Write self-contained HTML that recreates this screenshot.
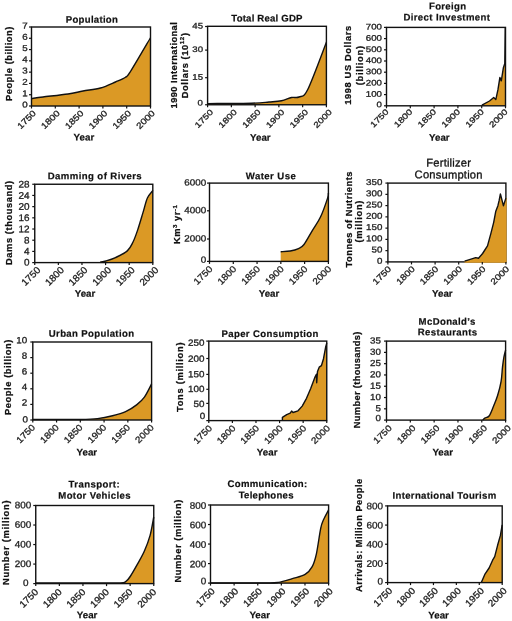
<!DOCTYPE html>
<html><head><meta charset="utf-8"><style>
html,body{margin:0;padding:0;background:#fff;width:512px;height:621px;overflow:hidden}
svg{display:block;will-change:transform;filter:blur(0.3px)}
text{font-family:"Liberation Sans", sans-serif}
.tt{font-weight:bold;font-size:9.6px;fill:#111;stroke:#111;stroke-width:0.2px}
.tr{font-size:11.2px;fill:#111;stroke:#111;stroke-width:0.3px}
.yl{font-weight:bold;font-size:9.3px;fill:#111;stroke:#111;stroke-width:0.25px}
.tk{font-size:10px;fill:#222;stroke:#222;stroke-width:0.3px}
</style></head><body>
<svg width="512" height="621" viewBox="0 0 512 621">
<rect width="512" height="621" fill="#fff"/>
<g><path d="M31.75,106.00 L31.75,98.50 C33.62,98.25 36.96,97.75 43.00,97.00 C49.04,96.25 61.33,95.00 68.00,94.00 C74.67,93.00 77.58,92.00 83.00,91.00 C88.42,90.00 95.08,89.50 100.50,88.00 C105.92,86.50 111.33,83.79 115.50,82.00 C119.67,80.21 123.00,79.00 125.50,77.25 C128.00,75.50 126.33,78.08 130.50,71.50 C134.67,64.92 147.17,43.38 150.50,37.75 L150.50,37.75 L150.50,106.00 Z" fill="#DB9925"/><path d="M31.75,98.50 C33.62,98.25 36.96,97.75 43.00,97.00 C49.04,96.25 61.33,95.00 68.00,94.00 C74.67,93.00 77.58,92.00 83.00,91.00 C88.42,90.00 95.08,89.50 100.50,88.00 C105.92,86.50 111.33,83.79 115.50,82.00 C119.67,80.21 123.00,79.00 125.50,77.25 C128.00,75.50 126.33,78.08 130.50,71.50 C134.67,64.92 147.17,43.38 150.50,37.75" fill="none" stroke="#111" stroke-width="1.4" stroke-linejoin="round"/><rect x="31.5" y="27" width="119.00" height="79.00" fill="none" stroke="#111" stroke-width="1.4"/><line x1="29.00" y1="106.00" x2="31.5" y2="106.00" stroke="#111" stroke-width="1.2"/><text transform="translate(27.80,107.52) scale(1.148,1) rotate(0.05)" class="tk" style="font-size:8.5px" text-anchor="end">0</text><line x1="29.00" y1="94.71" x2="31.5" y2="94.71" stroke="#111" stroke-width="1.2"/><text transform="translate(27.80,96.13) scale(1.148,1) rotate(0.05)" class="tk" style="font-size:8.5px" text-anchor="end">1</text><line x1="29.00" y1="83.43" x2="31.5" y2="83.43" stroke="#111" stroke-width="1.2"/><text transform="translate(27.80,84.85) scale(1.148,1) rotate(0.05)" class="tk" style="font-size:8.5px" text-anchor="end">2</text><line x1="29.00" y1="72.14" x2="31.5" y2="72.14" stroke="#111" stroke-width="1.2"/><text transform="translate(27.80,73.56) scale(1.148,1) rotate(0.05)" class="tk" style="font-size:8.5px" text-anchor="end">3</text><line x1="29.00" y1="60.86" x2="31.5" y2="60.86" stroke="#111" stroke-width="1.2"/><text transform="translate(27.80,62.27) scale(1.148,1) rotate(0.05)" class="tk" style="font-size:8.5px" text-anchor="end">4</text><line x1="29.00" y1="49.57" x2="31.5" y2="49.57" stroke="#111" stroke-width="1.2"/><text transform="translate(27.80,50.99) scale(1.148,1) rotate(0.05)" class="tk" style="font-size:8.5px" text-anchor="end">5</text><line x1="29.00" y1="38.29" x2="31.5" y2="38.29" stroke="#111" stroke-width="1.2"/><text transform="translate(27.80,39.70) scale(1.148,1) rotate(0.05)" class="tk" style="font-size:8.5px" text-anchor="end">6</text><line x1="29.00" y1="27.00" x2="31.5" y2="27.00" stroke="#111" stroke-width="1.2"/><text transform="translate(27.80,28.42) scale(1.148,1) rotate(0.05)" class="tk" style="font-size:8.5px" text-anchor="end">7</text><line x1="31.50" y1="106" x2="31.50" y2="108.50" stroke="#111" stroke-width="1.2"/><text transform="translate(34.40,111.65) rotate(-45) scale(1.176,1)" class="tk" style="font-size:8.50px" text-anchor="end" dy="3">1750</text><line x1="55.30" y1="106" x2="55.30" y2="108.50" stroke="#111" stroke-width="1.2"/><text transform="translate(58.20,111.65) rotate(-45) scale(1.176,1)" class="tk" style="font-size:8.50px" text-anchor="end" dy="3">1800</text><line x1="79.10" y1="106" x2="79.10" y2="108.50" stroke="#111" stroke-width="1.2"/><text transform="translate(82.00,111.65) rotate(-45) scale(1.176,1)" class="tk" style="font-size:8.50px" text-anchor="end" dy="3">1850</text><line x1="102.90" y1="106" x2="102.90" y2="108.50" stroke="#111" stroke-width="1.2"/><text transform="translate(105.80,111.65) rotate(-45) scale(1.176,1)" class="tk" style="font-size:8.50px" text-anchor="end" dy="3">1900</text><line x1="126.70" y1="106" x2="126.70" y2="108.50" stroke="#111" stroke-width="1.2"/><text transform="translate(129.60,111.65) rotate(-45) scale(1.176,1)" class="tk" style="font-size:8.50px" text-anchor="end" dy="3">1950</text><line x1="150.50" y1="106" x2="150.50" y2="108.50" stroke="#111" stroke-width="1.2"/><text transform="translate(153.40,111.65) rotate(-45) scale(1.176,1)" class="tk" style="font-size:8.50px" text-anchor="end" dy="3">2000</text><text x="91.85" y="22.80" transform="rotate(0.05 91.85 22.80)" class="tt" text-anchor="middle" textLength="52.10" lengthAdjust="spacing">Population</text><text transform="translate(11.60,63.85) rotate(-90)" class="yl" text-anchor="middle" textLength="74.30" lengthAdjust="spacing">People (billion)</text><text x="83.90" y="140.60" transform="rotate(0.05 83.90 140.60)" class="tt" text-anchor="middle" textLength="20.6" lengthAdjust="spacingAndGlyphs">Year</text></g><g><path d="M207.75,104.75 L207.75,103.60 C215.04,103.53 241.29,103.47 251.50,103.20 C261.71,102.93 264.00,102.41 269.00,102.00 C274.00,101.59 277.75,101.50 281.50,100.75 C285.25,100.00 288.58,98.12 291.50,97.50 C294.42,96.88 296.29,98.33 299.00,97.00 C301.71,95.67 303.17,98.67 307.75,89.50 C312.33,80.33 323.38,49.92 326.50,42.00 L326.40,42.00 L326.40,104.75 Z" fill="#DB9925"/><path d="M207.75,103.60 C215.04,103.53 241.29,103.47 251.50,103.20 C261.71,102.93 264.00,102.41 269.00,102.00 C274.00,101.59 277.75,101.50 281.50,100.75 C285.25,100.00 288.58,98.12 291.50,97.50 C294.42,96.88 296.29,98.33 299.00,97.00 C301.71,95.67 303.17,98.67 307.75,89.50 C312.33,80.33 323.38,49.92 326.50,42.00" fill="none" stroke="#111" stroke-width="1.4" stroke-linejoin="round"/><rect x="207.6" y="26.3" width="118.80" height="78.45" fill="none" stroke="#111" stroke-width="1.4"/><line x1="205.10" y1="104.75" x2="207.6" y2="104.75" stroke="#111" stroke-width="1.2"/><text transform="translate(203.00,105.49) scale(1.209,1) rotate(0.05)" class="tk" style="font-size:8.0px" text-anchor="end">0</text><line x1="205.10" y1="77.70" x2="207.6" y2="77.70" stroke="#111" stroke-width="1.2"/><text transform="translate(203.00,79.64) scale(1.209,1) rotate(0.05)" class="tk" style="font-size:8.0px" text-anchor="end">15</text><line x1="205.10" y1="50.10" x2="207.6" y2="50.10" stroke="#111" stroke-width="1.2"/><text transform="translate(203.00,52.04) scale(1.209,1) rotate(0.05)" class="tk" style="font-size:8.0px" text-anchor="end">30</text><line x1="205.10" y1="26.50" x2="207.6" y2="26.50" stroke="#111" stroke-width="1.2"/><text transform="translate(203.00,28.44) scale(1.209,1) rotate(0.05)" class="tk" style="font-size:8.0px" text-anchor="end">45</text><line x1="207.60" y1="104.75" x2="207.60" y2="107.25" stroke="#111" stroke-width="1.2"/><text transform="translate(211.60,110.55) rotate(-45) scale(1.250,1)" class="tk" style="font-size:8.00px" text-anchor="end" dy="3">1750</text><line x1="231.36" y1="104.75" x2="231.36" y2="107.25" stroke="#111" stroke-width="1.2"/><text transform="translate(235.36,110.55) rotate(-45) scale(1.250,1)" class="tk" style="font-size:8.00px" text-anchor="end" dy="3">1800</text><line x1="255.12" y1="104.75" x2="255.12" y2="107.25" stroke="#111" stroke-width="1.2"/><text transform="translate(259.12,110.55) rotate(-45) scale(1.250,1)" class="tk" style="font-size:8.00px" text-anchor="end" dy="3">1850</text><line x1="278.88" y1="104.75" x2="278.88" y2="107.25" stroke="#111" stroke-width="1.2"/><text transform="translate(282.88,110.55) rotate(-45) scale(1.250,1)" class="tk" style="font-size:8.00px" text-anchor="end" dy="3">1900</text><line x1="302.64" y1="104.75" x2="302.64" y2="107.25" stroke="#111" stroke-width="1.2"/><text transform="translate(306.64,110.55) rotate(-45) scale(1.250,1)" class="tk" style="font-size:8.00px" text-anchor="end" dy="3">1950</text><line x1="326.40" y1="104.75" x2="326.40" y2="107.25" stroke="#111" stroke-width="1.2"/><text transform="translate(330.40,110.55) rotate(-45) scale(1.250,1)" class="tk" style="font-size:8.00px" text-anchor="end" dy="3">2000</text><text x="266.90" y="21.50" transform="rotate(0.05 266.90 21.50)" class="tt" text-anchor="middle" textLength="71.25" lengthAdjust="spacing">Total Real GDP</text><text transform="translate(176.70,65.30) rotate(-90)" class="yl" text-anchor="middle" textLength="86.20" lengthAdjust="spacing">1990 International</text><text transform="translate(187.60,65.65) rotate(-90)" class="yl" text-anchor="middle" textLength="65.30" lengthAdjust="spacing">Dollars (10<tspan font-size="6.2" dy="-3.6">12</tspan><tspan dy="3.6">)</tspan></text><text x="260.30" y="140.70" transform="rotate(0.05 260.30 140.70)" class="tt" text-anchor="middle" textLength="20.6" lengthAdjust="spacingAndGlyphs">Year</text></g><g><path d="M481.90,105.80 L481.90,105.10 489.50,101.00 L493.70,97.50 L495.80,99.60 L497.90,89.90 L499.90,77.40 L501.30,80.90 L503.40,67.70 L504.80,63.50 L505.30,27.50 L505.50,27.50 L505.50,105.80 Z" fill="#DB9925"/><path d="M481.90,105.10 489.50,101.00 L493.70,97.50 L495.80,99.60 L497.90,89.90 L499.90,77.40 L501.30,80.90 L503.40,67.70 L504.80,63.50 L505.30,27.50" fill="none" stroke="#111" stroke-width="1.4" stroke-linejoin="round"/><rect x="386.5" y="27.4" width="119.00" height="78.40" fill="none" stroke="#111" stroke-width="1.4"/><line x1="384.00" y1="105.80" x2="386.5" y2="105.80" stroke="#111" stroke-width="1.2"/><text transform="translate(382.00,107.28) scale(1.196,1) rotate(0.05)" class="tk" style="font-size:8.1px" text-anchor="end">0</text><line x1="384.00" y1="94.60" x2="386.5" y2="94.60" stroke="#111" stroke-width="1.2"/><text transform="translate(382.00,96.73) scale(1.196,1) rotate(0.05)" class="tk" style="font-size:8.1px" text-anchor="end">100</text><line x1="384.00" y1="83.40" x2="386.5" y2="83.40" stroke="#111" stroke-width="1.2"/><text transform="translate(382.00,85.53) scale(1.196,1) rotate(0.05)" class="tk" style="font-size:8.1px" text-anchor="end">200</text><line x1="384.00" y1="72.20" x2="386.5" y2="72.20" stroke="#111" stroke-width="1.2"/><text transform="translate(382.00,74.33) scale(1.196,1) rotate(0.05)" class="tk" style="font-size:8.1px" text-anchor="end">300</text><line x1="384.00" y1="61.00" x2="386.5" y2="61.00" stroke="#111" stroke-width="1.2"/><text transform="translate(382.00,63.13) scale(1.196,1) rotate(0.05)" class="tk" style="font-size:8.1px" text-anchor="end">400</text><line x1="384.00" y1="49.80" x2="386.5" y2="49.80" stroke="#111" stroke-width="1.2"/><text transform="translate(382.00,51.93) scale(1.196,1) rotate(0.05)" class="tk" style="font-size:8.1px" text-anchor="end">500</text><line x1="384.00" y1="38.60" x2="386.5" y2="38.60" stroke="#111" stroke-width="1.2"/><text transform="translate(382.00,40.73) scale(1.196,1) rotate(0.05)" class="tk" style="font-size:8.1px" text-anchor="end">600</text><line x1="384.00" y1="27.40" x2="386.5" y2="27.40" stroke="#111" stroke-width="1.2"/><text transform="translate(382.00,29.53) scale(1.196,1) rotate(0.05)" class="tk" style="font-size:8.1px" text-anchor="end">700</text><line x1="386.50" y1="105.8" x2="386.50" y2="108.30" stroke="#111" stroke-width="1.2"/><text transform="translate(387.05,110.15) rotate(-45) scale(1.235,1)" class="tk" style="font-size:8.10px" text-anchor="end" dy="3">1750</text><line x1="410.30" y1="105.8" x2="410.30" y2="108.30" stroke="#111" stroke-width="1.2"/><text transform="translate(410.85,110.15) rotate(-45) scale(1.235,1)" class="tk" style="font-size:8.10px" text-anchor="end" dy="3">1800</text><line x1="434.10" y1="105.8" x2="434.10" y2="108.30" stroke="#111" stroke-width="1.2"/><text transform="translate(434.65,110.15) rotate(-45) scale(1.235,1)" class="tk" style="font-size:8.10px" text-anchor="end" dy="3">1850</text><line x1="457.90" y1="105.8" x2="457.90" y2="108.30" stroke="#111" stroke-width="1.2"/><text transform="translate(458.45,110.15) rotate(-45) scale(1.235,1)" class="tk" style="font-size:8.10px" text-anchor="end" dy="3">1900</text><line x1="481.70" y1="105.8" x2="481.70" y2="108.30" stroke="#111" stroke-width="1.2"/><text transform="translate(482.25,110.15) rotate(-45) scale(1.235,1)" class="tk" style="font-size:8.10px" text-anchor="end" dy="3">1950</text><line x1="505.50" y1="105.8" x2="505.50" y2="108.30" stroke="#111" stroke-width="1.2"/><text transform="translate(506.05,110.15) rotate(-45) scale(1.235,1)" class="tk" style="font-size:8.10px" text-anchor="end" dy="3">2000</text><text x="447.50" y="9.40" transform="rotate(0.05 447.50 9.40)" class="tt" text-anchor="middle" textLength="37.00" lengthAdjust="spacing">Foreign</text><text x="446.70" y="20.60" transform="rotate(0.05 446.70 20.60)" class="tt" text-anchor="middle" textLength="86.60" lengthAdjust="spacing">Direct Investment</text><text transform="translate(351.20,65.30) rotate(-90)" class="yl" text-anchor="middle" textLength="79.00" lengthAdjust="spacing">1998 US Dollars</text><text transform="translate(362.90,65.60) rotate(-90)" class="yl" text-anchor="middle" textLength="39.20" lengthAdjust="spacing">(billion)</text><text x="439.30" y="140.70" transform="rotate(0.05 439.30 140.70)" class="tt" text-anchor="middle" textLength="20.6" lengthAdjust="spacingAndGlyphs">Year</text></g><g><path d="M100.30,262.60 L100.30,262.00 C101.22,261.83 103.32,261.73 105.85,261.00 C108.38,260.27 111.92,259.28 115.50,257.60 C119.08,255.92 124.40,253.45 127.30,250.90 C130.20,248.35 131.17,245.80 132.90,242.30 C134.63,238.80 135.98,234.97 137.70,229.90 C139.42,224.83 141.58,217.22 143.20,211.90 C144.82,206.58 145.78,201.58 147.40,198.00 C149.02,194.42 151.98,191.67 152.90,190.40 L152.80,190.40 L152.80,262.60 Z" fill="#DB9925"/><path d="M100.30,262.00 C101.22,261.83 103.32,261.73 105.85,261.00 C108.38,260.27 111.92,259.28 115.50,257.60 C119.08,255.92 124.40,253.45 127.30,250.90 C130.20,248.35 131.17,245.80 132.90,242.30 C134.63,238.80 135.98,234.97 137.70,229.90 C139.42,224.83 141.58,217.22 143.20,211.90 C144.82,206.58 145.78,201.58 147.40,198.00 C149.02,194.42 151.98,191.67 152.90,190.40" fill="none" stroke="#111" stroke-width="1.4" stroke-linejoin="round"/><rect x="34.75" y="184.25" width="118.05" height="78.35" fill="none" stroke="#111" stroke-width="1.4"/><line x1="32.25" y1="262.60" x2="34.75" y2="262.60" stroke="#111" stroke-width="1.2"/><text transform="translate(29.65,265.51) scale(1.035,1) rotate(0.05)" class="tk" style="font-size:9.6px" text-anchor="end">0</text><line x1="32.25" y1="251.41" x2="34.75" y2="251.41" stroke="#111" stroke-width="1.2"/><text transform="translate(29.65,254.62) scale(1.035,1) rotate(0.05)" class="tk" style="font-size:9.6px" text-anchor="end">4</text><line x1="32.25" y1="240.21" x2="34.75" y2="240.21" stroke="#111" stroke-width="1.2"/><text transform="translate(29.65,243.42) scale(1.035,1) rotate(0.05)" class="tk" style="font-size:9.6px" text-anchor="end">8</text><line x1="32.25" y1="229.02" x2="34.75" y2="229.02" stroke="#111" stroke-width="1.2"/><text transform="translate(29.65,232.23) scale(1.035,1) rotate(0.05)" class="tk" style="font-size:9.6px" text-anchor="end">12</text><line x1="32.25" y1="217.83" x2="34.75" y2="217.83" stroke="#111" stroke-width="1.2"/><text transform="translate(29.65,221.04) scale(1.035,1) rotate(0.05)" class="tk" style="font-size:9.6px" text-anchor="end">16</text><line x1="32.25" y1="206.64" x2="34.75" y2="206.64" stroke="#111" stroke-width="1.2"/><text transform="translate(29.65,209.84) scale(1.035,1) rotate(0.05)" class="tk" style="font-size:9.6px" text-anchor="end">20</text><line x1="32.25" y1="195.44" x2="34.75" y2="195.44" stroke="#111" stroke-width="1.2"/><text transform="translate(29.65,198.65) scale(1.035,1) rotate(0.05)" class="tk" style="font-size:9.6px" text-anchor="end">24</text><line x1="32.25" y1="184.25" x2="34.75" y2="184.25" stroke="#111" stroke-width="1.2"/><text transform="translate(29.65,187.46) scale(1.035,1) rotate(0.05)" class="tk" style="font-size:9.6px" text-anchor="end">28</text><line x1="34.75" y1="262.6" x2="34.75" y2="265.10" stroke="#111" stroke-width="1.2"/><text transform="translate(38.95,268.45) rotate(-45) scale(1.042,1)" class="tk" style="font-size:9.60px" text-anchor="end" dy="3">1750</text><line x1="58.36" y1="262.6" x2="58.36" y2="265.10" stroke="#111" stroke-width="1.2"/><text transform="translate(62.56,268.45) rotate(-45) scale(1.042,1)" class="tk" style="font-size:9.60px" text-anchor="end" dy="3">1800</text><line x1="81.97" y1="262.6" x2="81.97" y2="265.10" stroke="#111" stroke-width="1.2"/><text transform="translate(86.17,268.45) rotate(-45) scale(1.042,1)" class="tk" style="font-size:9.60px" text-anchor="end" dy="3">1850</text><line x1="105.58" y1="262.6" x2="105.58" y2="265.10" stroke="#111" stroke-width="1.2"/><text transform="translate(109.78,268.45) rotate(-45) scale(1.042,1)" class="tk" style="font-size:9.60px" text-anchor="end" dy="3">1900</text><line x1="129.19" y1="262.6" x2="129.19" y2="265.10" stroke="#111" stroke-width="1.2"/><text transform="translate(133.39,268.45) rotate(-45) scale(1.042,1)" class="tk" style="font-size:9.60px" text-anchor="end" dy="3">1950</text><line x1="152.80" y1="262.6" x2="152.80" y2="265.10" stroke="#111" stroke-width="1.2"/><text transform="translate(157.00,268.45) rotate(-45) scale(1.042,1)" class="tk" style="font-size:9.60px" text-anchor="end" dy="3">2000</text><text x="94.70" y="179.30" transform="rotate(0.05 94.70 179.30)" class="tt" text-anchor="middle" textLength="94.00" lengthAdjust="spacing">Damming of Rivers</text><text transform="translate(12.00,222.95) rotate(-90)" class="yl" text-anchor="middle" textLength="84.10" lengthAdjust="spacing">Dams (thousand)</text><text x="85.00" y="296.70" transform="rotate(0.05 85.00 296.70)" class="tt" text-anchor="middle" textLength="20.6" lengthAdjust="spacingAndGlyphs">Year</text></g><g><path d="M280.70,261.40 L280.70,251.70 C282.28,251.58 287.23,251.52 290.20,251.00 C293.17,250.48 296.20,249.68 298.50,248.60 C300.80,247.52 301.70,247.50 304.00,244.50 C306.30,241.50 309.53,235.22 312.30,230.60 C315.07,225.98 318.05,222.22 320.60,216.80 C323.15,211.38 326.30,202.07 327.60,198.10 C328.90,194.13 328.27,193.85 328.40,193.00 L328.40,193.00 L328.40,261.40 Z" fill="#DB9925"/><path d="M280.70,251.70 C282.28,251.58 287.23,251.52 290.20,251.00 C293.17,250.48 296.20,249.68 298.50,248.60 C300.80,247.52 301.70,247.50 304.00,244.50 C306.30,241.50 309.53,235.22 312.30,230.60 C315.07,225.98 318.05,222.22 320.60,216.80 C323.15,211.38 326.30,202.07 327.60,198.10 C328.90,194.13 328.27,193.85 328.40,193.00" fill="none" stroke="#111" stroke-width="1.4" stroke-linejoin="round"/><rect x="209.5" y="183.1" width="118.90" height="78.30" fill="none" stroke="#111" stroke-width="1.4"/><line x1="207.00" y1="261.40" x2="209.5" y2="261.40" stroke="#111" stroke-width="1.2"/><text transform="translate(206.15,262.73) scale(1.083,1) rotate(0.05)" class="tk" style="font-size:9.1px" text-anchor="end">0</text><line x1="207.00" y1="239.00" x2="209.5" y2="239.00" stroke="#111" stroke-width="1.2"/><text transform="translate(206.15,241.53) scale(1.083,1) rotate(0.05)" class="tk" style="font-size:9.1px" text-anchor="end">2000</text><line x1="207.00" y1="210.80" x2="209.5" y2="210.80" stroke="#111" stroke-width="1.2"/><text transform="translate(206.15,213.33) scale(1.083,1) rotate(0.05)" class="tk" style="font-size:9.1px" text-anchor="end">4000</text><line x1="207.00" y1="183.10" x2="209.5" y2="183.10" stroke="#111" stroke-width="1.2"/><text transform="translate(206.15,185.63) scale(1.083,1) rotate(0.05)" class="tk" style="font-size:9.1px" text-anchor="end">6000</text><line x1="209.50" y1="261.4" x2="209.50" y2="263.90" stroke="#111" stroke-width="1.2"/><text transform="translate(210.95,267.40) rotate(-45) scale(1.099,1)" class="tk" style="font-size:9.10px" text-anchor="end" dy="3">1750</text><line x1="233.28" y1="261.4" x2="233.28" y2="263.90" stroke="#111" stroke-width="1.2"/><text transform="translate(234.73,267.40) rotate(-45) scale(1.099,1)" class="tk" style="font-size:9.10px" text-anchor="end" dy="3">1800</text><line x1="257.06" y1="261.4" x2="257.06" y2="263.90" stroke="#111" stroke-width="1.2"/><text transform="translate(258.51,267.40) rotate(-45) scale(1.099,1)" class="tk" style="font-size:9.10px" text-anchor="end" dy="3">1850</text><line x1="280.84" y1="261.4" x2="280.84" y2="263.90" stroke="#111" stroke-width="1.2"/><text transform="translate(282.29,267.40) rotate(-45) scale(1.099,1)" class="tk" style="font-size:9.10px" text-anchor="end" dy="3">1900</text><line x1="304.62" y1="261.4" x2="304.62" y2="263.90" stroke="#111" stroke-width="1.2"/><text transform="translate(306.07,267.40) rotate(-45) scale(1.099,1)" class="tk" style="font-size:9.10px" text-anchor="end" dy="3">1950</text><line x1="328.40" y1="261.4" x2="328.40" y2="263.90" stroke="#111" stroke-width="1.2"/><text transform="translate(329.85,267.40) rotate(-45) scale(1.099,1)" class="tk" style="font-size:9.10px" text-anchor="end" dy="3">2000</text><text x="270.75" y="179.30" transform="rotate(0.05 270.75 179.30)" class="tt" text-anchor="middle" textLength="50.00" lengthAdjust="spacing">Water Use</text><text transform="translate(180.20,224.50) rotate(-90)" class="yl" text-anchor="middle" textLength="39.00" lengthAdjust="spacing">Km<tspan font-size="6.2" dy="-3.6">3</tspan><tspan dy="3.6"> yr</tspan><tspan font-size="6.2" dy="-3.6">-1</tspan></text><text x="269.00" y="296.70" transform="rotate(0.05 269.00 296.70)" class="tt" text-anchor="middle" textLength="20.6" lengthAdjust="spacingAndGlyphs">Year</text></g><g><rect x="387.9" y="183.1" width="118.00" height="78.80" fill="none" stroke="#111" stroke-width="1.4"/><path d="M464.60,262.65 L464.60,261.10 470.20,259.40 L475.70,257.60 L478.50,258.30 L482.60,253.50 L487.50,245.90 L490.90,233.40 L493.70,222.30 L495.80,211.20 L497.90,205.70 L499.20,200.20 L500.40,193.90 L502.00,200.20 L503.40,205.70 L505.90,198.10 L506.65,198.10 L506.65,262.65 Z" fill="#DB9925"/><path d="M464.60,261.10 470.20,259.40 L475.70,257.60 L478.50,258.30 L482.60,253.50 L487.50,245.90 L490.90,233.40 L493.70,222.30 L495.80,211.20 L497.90,205.70 L499.20,200.20 L500.40,193.90 L502.00,200.20 L503.40,205.70 L505.90,198.10" fill="none" stroke="#111" stroke-width="1.4" stroke-linejoin="round"/><line x1="385.40" y1="261.90" x2="387.9" y2="261.90" stroke="#111" stroke-width="1.2"/><text transform="translate(382.40,263.72) scale(1.148,1) rotate(0.05)" class="tk" style="font-size:8.5px" text-anchor="end">0</text><line x1="385.40" y1="250.64" x2="387.9" y2="250.64" stroke="#111" stroke-width="1.2"/><text transform="translate(382.40,252.56) scale(1.148,1) rotate(0.05)" class="tk" style="font-size:8.5px" text-anchor="end">50</text><line x1="385.40" y1="239.39" x2="387.9" y2="239.39" stroke="#111" stroke-width="1.2"/><text transform="translate(382.40,241.30) scale(1.148,1) rotate(0.05)" class="tk" style="font-size:8.5px" text-anchor="end">100</text><line x1="385.40" y1="228.13" x2="387.9" y2="228.13" stroke="#111" stroke-width="1.2"/><text transform="translate(382.40,230.05) scale(1.148,1) rotate(0.05)" class="tk" style="font-size:8.5px" text-anchor="end">150</text><line x1="385.40" y1="216.87" x2="387.9" y2="216.87" stroke="#111" stroke-width="1.2"/><text transform="translate(382.40,218.79) scale(1.148,1) rotate(0.05)" class="tk" style="font-size:8.5px" text-anchor="end">200</text><line x1="385.40" y1="205.61" x2="387.9" y2="205.61" stroke="#111" stroke-width="1.2"/><text transform="translate(382.40,207.53) scale(1.148,1) rotate(0.05)" class="tk" style="font-size:8.5px" text-anchor="end">250</text><line x1="385.40" y1="194.36" x2="387.9" y2="194.36" stroke="#111" stroke-width="1.2"/><text transform="translate(382.40,196.27) scale(1.148,1) rotate(0.05)" class="tk" style="font-size:8.5px" text-anchor="end">300</text><line x1="385.40" y1="183.10" x2="387.9" y2="183.10" stroke="#111" stroke-width="1.2"/><text transform="translate(382.40,185.02) scale(1.148,1) rotate(0.05)" class="tk" style="font-size:8.5px" text-anchor="end">350</text><line x1="387.90" y1="261.9" x2="387.90" y2="264.40" stroke="#111" stroke-width="1.2"/><text transform="translate(389.65,267.40) rotate(-45) scale(1.176,1)" class="tk" style="font-size:8.50px" text-anchor="end" dy="3">1750</text><line x1="411.50" y1="261.9" x2="411.50" y2="264.40" stroke="#111" stroke-width="1.2"/><text transform="translate(413.25,267.40) rotate(-45) scale(1.176,1)" class="tk" style="font-size:8.50px" text-anchor="end" dy="3">1800</text><line x1="435.10" y1="261.9" x2="435.10" y2="264.40" stroke="#111" stroke-width="1.2"/><text transform="translate(436.85,267.40) rotate(-45) scale(1.176,1)" class="tk" style="font-size:8.50px" text-anchor="end" dy="3">1850</text><line x1="458.70" y1="261.9" x2="458.70" y2="264.40" stroke="#111" stroke-width="1.2"/><text transform="translate(460.45,267.40) rotate(-45) scale(1.176,1)" class="tk" style="font-size:8.50px" text-anchor="end" dy="3">1900</text><line x1="482.30" y1="261.9" x2="482.30" y2="264.40" stroke="#111" stroke-width="1.2"/><text transform="translate(484.05,267.40) rotate(-45) scale(1.176,1)" class="tk" style="font-size:8.50px" text-anchor="end" dy="3">1950</text><line x1="505.90" y1="261.9" x2="505.90" y2="264.40" stroke="#111" stroke-width="1.2"/><text transform="translate(507.65,267.40) rotate(-45) scale(1.176,1)" class="tk" style="font-size:8.50px" text-anchor="end" dy="3">2000</text><text x="448.60" y="166.60" transform="rotate(0.05 448.60 166.60)" class="tr" text-anchor="middle" textLength="44.65" lengthAdjust="spacing">Fertilizer</text><text x="448.55" y="178.40" transform="rotate(0.05 448.55 178.40)" class="tr" text-anchor="middle" textLength="67.90" lengthAdjust="spacing">Consumption</text><text transform="translate(351.80,219.50) rotate(-90)" class="yl" text-anchor="middle" textLength="95.80" lengthAdjust="spacing">Tonnes of Nutrients</text><text transform="translate(362.20,221.55) rotate(-90)" class="yl" text-anchor="middle" textLength="41.90" lengthAdjust="spacing">(million)</text><text x="442.30" y="296.70" transform="rotate(0.05 442.30 296.70)" class="tt" text-anchor="middle" textLength="20.6" lengthAdjust="spacingAndGlyphs">Year</text></g><g><path d="M32.80,420.00 L32.80,419.50 C37.33,419.50 52.03,419.50 60.00,419.50 C67.97,419.50 74.35,419.65 80.60,419.50 C86.85,419.35 92.18,419.22 97.50,418.60 C102.82,417.98 107.82,416.95 112.50,415.80 C117.18,414.65 121.53,413.57 125.60,411.70 C129.67,409.83 133.77,407.03 136.90,404.60 C140.03,402.17 141.95,400.55 144.40,397.10 C146.85,393.65 150.40,386.10 151.60,383.90 L151.60,383.90 L151.60,420.00 Z" fill="#DB9925"/><path d="M32.80,419.50 C37.33,419.50 52.03,419.50 60.00,419.50 C67.97,419.50 74.35,419.65 80.60,419.50 C86.85,419.35 92.18,419.22 97.50,418.60 C102.82,417.98 107.82,416.95 112.50,415.80 C117.18,414.65 121.53,413.57 125.60,411.70 C129.67,409.83 133.77,407.03 136.90,404.60 C140.03,402.17 141.95,400.55 144.40,397.10 C146.85,393.65 150.40,386.10 151.60,383.90" fill="none" stroke="#111" stroke-width="1.4" stroke-linejoin="round"/><rect x="32.8" y="342" width="118.80" height="78.00" fill="none" stroke="#111" stroke-width="1.4"/><line x1="30.30" y1="420.00" x2="32.8" y2="420.00" stroke="#111" stroke-width="1.2"/><text transform="translate(28.10,422.50) scale(1.094,1) rotate(0.05)" class="tk" style="font-size:9.0px" text-anchor="end">0</text><line x1="30.30" y1="404.40" x2="32.8" y2="404.40" stroke="#111" stroke-width="1.2"/><text transform="translate(27.20,405.59) scale(1.094,1) rotate(0.05)" class="tk" style="font-size:9.0px" text-anchor="end">2</text><line x1="30.30" y1="388.80" x2="32.8" y2="388.80" stroke="#111" stroke-width="1.2"/><text transform="translate(27.20,390.00) scale(1.094,1) rotate(0.05)" class="tk" style="font-size:9.0px" text-anchor="end">4</text><line x1="30.30" y1="373.20" x2="32.8" y2="373.20" stroke="#111" stroke-width="1.2"/><text transform="translate(27.20,374.39) scale(1.094,1) rotate(0.05)" class="tk" style="font-size:9.0px" text-anchor="end">6</text><line x1="30.30" y1="357.60" x2="32.8" y2="357.60" stroke="#111" stroke-width="1.2"/><text transform="translate(27.20,358.80) scale(1.094,1) rotate(0.05)" class="tk" style="font-size:9.0px" text-anchor="end">8</text><line x1="30.30" y1="342.00" x2="32.8" y2="342.00" stroke="#111" stroke-width="1.2"/><text transform="translate(27.20,343.19) scale(1.094,1) rotate(0.05)" class="tk" style="font-size:9.0px" text-anchor="end">10</text><line x1="32.80" y1="420" x2="32.80" y2="422.50" stroke="#111" stroke-width="1.2"/><text transform="translate(33.60,425.85) rotate(-45) scale(1.111,1)" class="tk" style="font-size:9.00px" text-anchor="end" dy="3">1750</text><line x1="56.56" y1="420" x2="56.56" y2="422.50" stroke="#111" stroke-width="1.2"/><text transform="translate(57.36,425.85) rotate(-45) scale(1.111,1)" class="tk" style="font-size:9.00px" text-anchor="end" dy="3">1800</text><line x1="80.32" y1="420" x2="80.32" y2="422.50" stroke="#111" stroke-width="1.2"/><text transform="translate(81.12,425.85) rotate(-45) scale(1.111,1)" class="tk" style="font-size:9.00px" text-anchor="end" dy="3">1850</text><line x1="104.08" y1="420" x2="104.08" y2="422.50" stroke="#111" stroke-width="1.2"/><text transform="translate(104.88,425.85) rotate(-45) scale(1.111,1)" class="tk" style="font-size:9.00px" text-anchor="end" dy="3">1900</text><line x1="127.84" y1="420" x2="127.84" y2="422.50" stroke="#111" stroke-width="1.2"/><text transform="translate(128.64,425.85) rotate(-45) scale(1.111,1)" class="tk" style="font-size:9.00px" text-anchor="end" dy="3">1950</text><line x1="151.60" y1="420" x2="151.60" y2="422.50" stroke="#111" stroke-width="1.2"/><text transform="translate(152.40,425.85) rotate(-45) scale(1.111,1)" class="tk" style="font-size:9.00px" text-anchor="end" dy="3">2000</text><text x="91.40" y="336.80" transform="rotate(0.05 91.40 336.80)" class="tt" text-anchor="middle" textLength="85.25" lengthAdjust="spacing">Urban Population</text><text transform="translate(11.20,377.30) rotate(-90)" class="yl" text-anchor="middle" textLength="75.40" lengthAdjust="spacing">People (billion)</text><text x="86.85" y="455.60" transform="rotate(0.05 86.85 455.60)" class="tt" text-anchor="middle" textLength="20.6" lengthAdjust="spacingAndGlyphs">Year</text></g><g><path d="M282.40,420.60 L282.40,420.60 282.40,417.40 L286.70,414.60 L290.20,413.20 L291.60,411.10 L293.00,412.50 L298.00,410.80 L302.20,406.10 L306.50,398.30 L310.70,388.40 L315.00,377.10 L316.40,374.20 L316.70,382.70 L317.50,371.40 L319.20,367.20 L321.40,365.70 L323.50,358.70 L325.60,347.30 L326.75,343.10 L326.75,343.10 L326.75,420.60 Z" fill="#DB9925"/><path d="M282.40,420.60 282.40,417.40 L286.70,414.60 L290.20,413.20 L291.60,411.10 L293.00,412.50 L298.00,410.80 L302.20,406.10 L306.50,398.30 L310.70,388.40 L315.00,377.10 L316.40,374.20 L316.70,382.70 L317.50,371.40 L319.20,367.20 L321.40,365.70 L323.50,358.70 L325.60,347.30 L326.75,343.10" fill="none" stroke="#111" stroke-width="1.4" stroke-linejoin="round"/><rect x="208.8" y="341.1" width="117.95" height="79.50" fill="none" stroke="#111" stroke-width="1.4"/><line x1="206.30" y1="420.60" x2="208.8" y2="420.60" stroke="#111" stroke-width="1.2"/><text transform="translate(205.35,418.89) scale(1.094,1) rotate(0.05)" class="tk" style="font-size:9.0px" text-anchor="end">0</text><line x1="206.30" y1="403.40" x2="208.8" y2="403.40" stroke="#111" stroke-width="1.2"/><text transform="translate(204.50,407.00) scale(1.094,1) rotate(0.05)" class="tk" style="font-size:9.0px" text-anchor="end">50</text><line x1="206.30" y1="389.30" x2="208.8" y2="389.30" stroke="#111" stroke-width="1.2"/><text transform="translate(204.50,392.09) scale(1.094,1) rotate(0.05)" class="tk" style="font-size:9.0px" text-anchor="end">100</text><line x1="206.30" y1="374.40" x2="208.8" y2="374.40" stroke="#111" stroke-width="1.2"/><text transform="translate(204.50,377.19) scale(1.094,1) rotate(0.05)" class="tk" style="font-size:9.0px" text-anchor="end">150</text><line x1="206.30" y1="358.50" x2="208.8" y2="358.50" stroke="#111" stroke-width="1.2"/><text transform="translate(204.50,361.69) scale(1.094,1) rotate(0.05)" class="tk" style="font-size:9.0px" text-anchor="end">200</text><line x1="206.30" y1="341.10" x2="208.8" y2="341.10" stroke="#111" stroke-width="1.2"/><text transform="translate(204.50,345.69) scale(1.094,1) rotate(0.05)" class="tk" style="font-size:9.0px" text-anchor="end">250</text><line x1="208.80" y1="420.6" x2="208.80" y2="423.10" stroke="#111" stroke-width="1.2"/><text transform="translate(210.50,426.60) rotate(-45) scale(1.111,1)" class="tk" style="font-size:9.00px" text-anchor="end" dy="3">1750</text><line x1="232.39" y1="420.6" x2="232.39" y2="423.10" stroke="#111" stroke-width="1.2"/><text transform="translate(234.09,426.60) rotate(-45) scale(1.111,1)" class="tk" style="font-size:9.00px" text-anchor="end" dy="3">1800</text><line x1="255.98" y1="420.6" x2="255.98" y2="423.10" stroke="#111" stroke-width="1.2"/><text transform="translate(257.68,426.60) rotate(-45) scale(1.111,1)" class="tk" style="font-size:9.00px" text-anchor="end" dy="3">1850</text><line x1="279.57" y1="420.6" x2="279.57" y2="423.10" stroke="#111" stroke-width="1.2"/><text transform="translate(281.27,426.60) rotate(-45) scale(1.111,1)" class="tk" style="font-size:9.00px" text-anchor="end" dy="3">1900</text><line x1="303.16" y1="420.6" x2="303.16" y2="423.10" stroke="#111" stroke-width="1.2"/><text transform="translate(304.86,426.60) rotate(-45) scale(1.111,1)" class="tk" style="font-size:9.00px" text-anchor="end" dy="3">1950</text><line x1="326.75" y1="420.6" x2="326.75" y2="423.10" stroke="#111" stroke-width="1.2"/><text transform="translate(328.45,426.60) rotate(-45) scale(1.111,1)" class="tk" style="font-size:9.00px" text-anchor="end" dy="3">2000</text><text x="269.95" y="337.00" transform="rotate(0.05 269.95 337.00)" class="tt" text-anchor="middle" textLength="96.90" lengthAdjust="spacing">Paper Consumption</text><text transform="translate(182.50,377.25) rotate(-90)" class="yl" text-anchor="middle" textLength="69.50" lengthAdjust="spacing">Tons (million)</text><text x="267.15" y="455.60" transform="rotate(0.05 267.15 455.60)" class="tt" text-anchor="middle" textLength="20.6" lengthAdjust="spacingAndGlyphs">Year</text></g><g><path d="M482.70,420.10 L482.70,420.10 C483.05,419.77 483.73,418.78 484.80,418.10 C485.87,417.42 487.68,417.88 489.10,416.00 C490.52,414.12 491.88,410.22 493.30,406.80 C494.72,403.38 496.30,399.75 497.60,395.50 C498.90,391.25 500.28,386.02 501.10,381.30 C501.92,376.58 502.03,371.22 502.50,367.20 C502.97,363.18 503.38,360.03 503.90,357.20 C504.42,354.37 505.32,351.37 505.60,350.20 L505.60,350.20 L505.60,420.10 Z" fill="#DB9925"/><path d="M482.70,420.10 C483.05,419.77 483.73,418.78 484.80,418.10 C485.87,417.42 487.68,417.88 489.10,416.00 C490.52,414.12 491.88,410.22 493.30,406.80 C494.72,403.38 496.30,399.75 497.60,395.50 C498.90,391.25 500.28,386.02 501.10,381.30 C501.92,376.58 502.03,371.22 502.50,367.20 C502.97,363.18 503.38,360.03 503.90,357.20 C504.42,354.37 505.32,351.37 505.60,350.20" fill="none" stroke="#111" stroke-width="1.4" stroke-linejoin="round"/><rect x="386.5" y="341.1" width="119.10" height="79.00" fill="none" stroke="#111" stroke-width="1.4"/><line x1="384.00" y1="420.10" x2="386.5" y2="420.10" stroke="#111" stroke-width="1.2"/><text transform="translate(381.00,421.11) scale(1.120,1) rotate(0.05)" class="tk" style="font-size:8.75px" text-anchor="end">0</text><line x1="384.00" y1="408.81" x2="386.5" y2="408.81" stroke="#111" stroke-width="1.2"/><text transform="translate(381.00,411.22) scale(1.120,1) rotate(0.05)" class="tk" style="font-size:8.75px" text-anchor="end">5</text><line x1="384.00" y1="397.53" x2="386.5" y2="397.53" stroke="#111" stroke-width="1.2"/><text transform="translate(381.00,399.93) scale(1.120,1) rotate(0.05)" class="tk" style="font-size:8.75px" text-anchor="end">10</text><line x1="384.00" y1="386.24" x2="386.5" y2="386.24" stroke="#111" stroke-width="1.2"/><text transform="translate(381.00,388.65) scale(1.120,1) rotate(0.05)" class="tk" style="font-size:8.75px" text-anchor="end">15</text><line x1="384.00" y1="374.96" x2="386.5" y2="374.96" stroke="#111" stroke-width="1.2"/><text transform="translate(381.00,377.36) scale(1.120,1) rotate(0.05)" class="tk" style="font-size:8.75px" text-anchor="end">20</text><line x1="384.00" y1="363.67" x2="386.5" y2="363.67" stroke="#111" stroke-width="1.2"/><text transform="translate(381.00,366.08) scale(1.120,1) rotate(0.05)" class="tk" style="font-size:8.75px" text-anchor="end">25</text><line x1="384.00" y1="352.39" x2="386.5" y2="352.39" stroke="#111" stroke-width="1.2"/><text transform="translate(381.00,354.79) scale(1.120,1) rotate(0.05)" class="tk" style="font-size:8.75px" text-anchor="end">30</text><line x1="384.00" y1="341.10" x2="386.5" y2="341.10" stroke="#111" stroke-width="1.2"/><text transform="translate(381.00,343.51) scale(1.120,1) rotate(0.05)" class="tk" style="font-size:8.75px" text-anchor="end">35</text><line x1="386.50" y1="420.1" x2="386.50" y2="422.60" stroke="#111" stroke-width="1.2"/><text transform="translate(390.30,426.40) rotate(-45) scale(1.143,1)" class="tk" style="font-size:8.75px" text-anchor="end" dy="3">1750</text><line x1="410.32" y1="420.1" x2="410.32" y2="422.60" stroke="#111" stroke-width="1.2"/><text transform="translate(414.12,426.40) rotate(-45) scale(1.143,1)" class="tk" style="font-size:8.75px" text-anchor="end" dy="3">1800</text><line x1="434.14" y1="420.1" x2="434.14" y2="422.60" stroke="#111" stroke-width="1.2"/><text transform="translate(437.94,426.40) rotate(-45) scale(1.143,1)" class="tk" style="font-size:8.75px" text-anchor="end" dy="3">1850</text><line x1="457.96" y1="420.1" x2="457.96" y2="422.60" stroke="#111" stroke-width="1.2"/><text transform="translate(461.76,426.40) rotate(-45) scale(1.143,1)" class="tk" style="font-size:8.75px" text-anchor="end" dy="3">1900</text><line x1="481.78" y1="420.1" x2="481.78" y2="422.60" stroke="#111" stroke-width="1.2"/><text transform="translate(485.58,426.40) rotate(-45) scale(1.143,1)" class="tk" style="font-size:8.75px" text-anchor="end" dy="3">1950</text><line x1="505.60" y1="420.1" x2="505.60" y2="422.60" stroke="#111" stroke-width="1.2"/><text transform="translate(509.40,426.40) rotate(-45) scale(1.143,1)" class="tk" style="font-size:8.75px" text-anchor="end" dy="3">2000</text><text x="446.95" y="324.80" transform="rotate(0.05 446.95 324.80)" class="tt" text-anchor="middle" textLength="56.70" lengthAdjust="spacing">McDonald&#8217;s</text><text x="447.50" y="335.40" transform="rotate(0.05 447.50 335.40)" class="tt" text-anchor="middle" textLength="59.40" lengthAdjust="spacing">Restaurants</text><text transform="translate(359.90,379.90) rotate(-90)" class="yl" text-anchor="middle" textLength="96.60" lengthAdjust="spacing">Number (thousands)</text><text x="442.70" y="455.60" transform="rotate(0.05 442.70 455.60)" class="tt" text-anchor="middle" textLength="20.6" lengthAdjust="spacingAndGlyphs">Year</text></g><g><path d="M35.75,583.60 L35.75,583.00 C45.12,583.00 77.91,583.02 92.00,583.00 C106.09,582.98 114.63,583.17 120.30,582.90 C125.97,582.63 124.35,582.47 126.00,581.40 C127.65,580.33 128.32,579.33 130.20,576.50 C132.08,573.67 134.93,568.65 137.30,564.40 C139.67,560.15 142.27,555.83 144.40,551.00 C146.53,546.17 148.54,541.07 150.10,535.40 C151.66,529.73 153.14,520.07 153.75,517.00 L153.75,517.00 L153.75,583.60 Z" fill="#DB9925"/><path d="M35.75,583.00 C45.12,583.00 77.91,583.02 92.00,583.00 C106.09,582.98 114.63,583.17 120.30,582.90 C125.97,582.63 124.35,582.47 126.00,581.40 C127.65,580.33 128.32,579.33 130.20,576.50 C132.08,573.67 134.93,568.65 137.30,564.40 C139.67,560.15 142.27,555.83 144.40,551.00 C146.53,546.17 148.54,541.07 150.10,535.40 C151.66,529.73 153.14,520.07 153.75,517.00" fill="none" stroke="#111" stroke-width="1.4" stroke-linejoin="round"/><rect x="35.75" y="505.5" width="118.00" height="78.10" fill="none" stroke="#111" stroke-width="1.4"/><line x1="33.25" y1="583.60" x2="35.75" y2="583.60" stroke="#111" stroke-width="1.2"/><text transform="translate(28.55,585.94) scale(1.054,1) rotate(0.05)" class="tk" style="font-size:9.4px" text-anchor="end">0</text><line x1="33.25" y1="564.08" x2="35.75" y2="564.08" stroke="#111" stroke-width="1.2"/><text transform="translate(31.25,566.91) scale(1.054,1) rotate(0.05)" class="tk" style="font-size:9.4px" text-anchor="end">200</text><line x1="33.25" y1="544.55" x2="35.75" y2="544.55" stroke="#111" stroke-width="1.2"/><text transform="translate(31.25,547.39) scale(1.054,1) rotate(0.05)" class="tk" style="font-size:9.4px" text-anchor="end">400</text><line x1="33.25" y1="525.02" x2="35.75" y2="525.02" stroke="#111" stroke-width="1.2"/><text transform="translate(31.25,527.86) scale(1.054,1) rotate(0.05)" class="tk" style="font-size:9.4px" text-anchor="end">600</text><line x1="33.25" y1="505.50" x2="35.75" y2="505.50" stroke="#111" stroke-width="1.2"/><text transform="translate(31.25,508.34) scale(1.054,1) rotate(0.05)" class="tk" style="font-size:9.4px" text-anchor="end">800</text><line x1="35.75" y1="583.6" x2="35.75" y2="586.10" stroke="#111" stroke-width="1.2"/><text transform="translate(36.75,590.40) rotate(-45) scale(1.064,1)" class="tk" style="font-size:9.40px" text-anchor="end" dy="3">1750</text><line x1="59.35" y1="583.6" x2="59.35" y2="586.10" stroke="#111" stroke-width="1.2"/><text transform="translate(60.35,590.40) rotate(-45) scale(1.064,1)" class="tk" style="font-size:9.40px" text-anchor="end" dy="3">1800</text><line x1="82.95" y1="583.6" x2="82.95" y2="586.10" stroke="#111" stroke-width="1.2"/><text transform="translate(83.95,590.40) rotate(-45) scale(1.064,1)" class="tk" style="font-size:9.40px" text-anchor="end" dy="3">1850</text><line x1="106.55" y1="583.6" x2="106.55" y2="586.10" stroke="#111" stroke-width="1.2"/><text transform="translate(107.55,590.40) rotate(-45) scale(1.064,1)" class="tk" style="font-size:9.40px" text-anchor="end" dy="3">1900</text><line x1="130.15" y1="583.6" x2="130.15" y2="586.10" stroke="#111" stroke-width="1.2"/><text transform="translate(131.15,590.40) rotate(-45) scale(1.064,1)" class="tk" style="font-size:9.40px" text-anchor="end" dy="3">1950</text><line x1="153.75" y1="583.6" x2="153.75" y2="586.10" stroke="#111" stroke-width="1.2"/><text transform="translate(154.75,590.40) rotate(-45) scale(1.064,1)" class="tk" style="font-size:9.40px" text-anchor="end" dy="3">2000</text><text x="94.10" y="487.50" transform="rotate(0.05 94.10 487.50)" class="tt" text-anchor="middle" textLength="51.00" lengthAdjust="spacing">Transport:</text><text x="94.40" y="498.75" transform="rotate(0.05 94.40 498.75)" class="tt" text-anchor="middle" textLength="72.20" lengthAdjust="spacing">Motor Vehicles</text><text transform="translate(9.40,542.75) rotate(-90)" class="yl" text-anchor="middle" textLength="84.50" lengthAdjust="spacing">Number (million)</text><text x="87.05" y="618.20" transform="rotate(0.05 87.05 618.20)" class="tt" text-anchor="middle" textLength="20.6" lengthAdjust="spacingAndGlyphs">Year</text></g><g><path d="M210.50,583.10 L210.50,583.00 C219.42,583.00 252.72,583.10 264.00,583.00 C275.28,582.90 273.48,583.13 278.20,582.40 C282.92,581.67 287.82,579.93 292.30,578.60 C296.78,577.27 301.78,576.40 305.10,574.40 C308.42,572.40 310.32,570.03 312.20,566.60 C314.08,563.17 314.98,560.18 316.40,553.80 C317.82,547.42 319.52,533.97 320.70,528.30 C321.88,522.63 322.18,522.87 323.50,519.80 C324.82,516.73 327.75,511.55 328.60,509.90 L328.60,509.90 L328.60,583.10 Z" fill="#DB9925"/><path d="M210.50,583.00 C219.42,583.00 252.72,583.10 264.00,583.00 C275.28,582.90 273.48,583.13 278.20,582.40 C282.92,581.67 287.82,579.93 292.30,578.60 C296.78,577.27 301.78,576.40 305.10,574.40 C308.42,572.40 310.32,570.03 312.20,566.60 C314.08,563.17 314.98,560.18 316.40,553.80 C317.82,547.42 319.52,533.97 320.70,528.30 C321.88,522.63 322.18,522.87 323.50,519.80 C324.82,516.73 327.75,511.55 328.60,509.90" fill="none" stroke="#111" stroke-width="1.4" stroke-linejoin="round"/><rect x="210.5" y="505" width="118.10" height="78.10" fill="none" stroke="#111" stroke-width="1.4"/><line x1="208.00" y1="583.10" x2="210.5" y2="583.10" stroke="#111" stroke-width="1.2"/><text transform="translate(206.15,584.24) scale(1.054,1) rotate(0.05)" class="tk" style="font-size:9.4px" text-anchor="end">0</text><line x1="208.00" y1="563.58" x2="210.5" y2="563.58" stroke="#111" stroke-width="1.2"/><text transform="translate(206.15,567.21) scale(1.054,1) rotate(0.05)" class="tk" style="font-size:9.4px" text-anchor="end">200</text><line x1="208.00" y1="544.05" x2="210.5" y2="544.05" stroke="#111" stroke-width="1.2"/><text transform="translate(206.15,547.69) scale(1.054,1) rotate(0.05)" class="tk" style="font-size:9.4px" text-anchor="end">400</text><line x1="208.00" y1="524.52" x2="210.5" y2="524.52" stroke="#111" stroke-width="1.2"/><text transform="translate(206.15,528.16) scale(1.054,1) rotate(0.05)" class="tk" style="font-size:9.4px" text-anchor="end">600</text><line x1="208.00" y1="505.00" x2="210.5" y2="505.00" stroke="#111" stroke-width="1.2"/><text transform="translate(206.15,508.64) scale(1.054,1) rotate(0.05)" class="tk" style="font-size:9.4px" text-anchor="end">800</text><line x1="210.50" y1="583.1" x2="210.50" y2="585.60" stroke="#111" stroke-width="1.2"/><text transform="translate(213.30,589.60) rotate(-45) scale(1.064,1)" class="tk" style="font-size:9.40px" text-anchor="end" dy="3">1750</text><line x1="234.12" y1="583.1" x2="234.12" y2="585.60" stroke="#111" stroke-width="1.2"/><text transform="translate(236.92,589.60) rotate(-45) scale(1.064,1)" class="tk" style="font-size:9.40px" text-anchor="end" dy="3">1800</text><line x1="257.74" y1="583.1" x2="257.74" y2="585.60" stroke="#111" stroke-width="1.2"/><text transform="translate(260.54,589.60) rotate(-45) scale(1.064,1)" class="tk" style="font-size:9.40px" text-anchor="end" dy="3">1850</text><line x1="281.36" y1="583.1" x2="281.36" y2="585.60" stroke="#111" stroke-width="1.2"/><text transform="translate(284.16,589.60) rotate(-45) scale(1.064,1)" class="tk" style="font-size:9.40px" text-anchor="end" dy="3">1900</text><line x1="304.98" y1="583.1" x2="304.98" y2="585.60" stroke="#111" stroke-width="1.2"/><text transform="translate(307.78,589.60) rotate(-45) scale(1.064,1)" class="tk" style="font-size:9.40px" text-anchor="end" dy="3">1950</text><line x1="328.60" y1="583.1" x2="328.60" y2="585.60" stroke="#111" stroke-width="1.2"/><text transform="translate(331.40,589.60) rotate(-45) scale(1.064,1)" class="tk" style="font-size:9.40px" text-anchor="end" dy="3">2000</text><text x="267.35" y="487.10" transform="rotate(0.05 267.35 487.10)" class="tt" text-anchor="middle" textLength="79.70" lengthAdjust="spacing">Communication:</text><text x="266.10" y="498.40" transform="rotate(0.05 266.10 498.40)" class="tt" text-anchor="middle" textLength="54.75" lengthAdjust="spacing">Telephones</text><text transform="translate(180.70,541.15) rotate(-90)" class="yl" text-anchor="middle" textLength="82.90" lengthAdjust="spacing">Number (million)</text><text x="259.70" y="618.20" transform="rotate(0.05 259.70 618.20)" class="tt" text-anchor="middle" textLength="20.6" lengthAdjust="spacingAndGlyphs">Year</text></g><g><path d="M481.30,582.60 L481.30,582.60 484.80,574.40 L489.10,568.00 L492.60,560.20 L494.70,556.70 L497.60,545.30 L500.40,535.40 L502.20,524.80 L502.20,524.80 L502.20,582.60 Z" fill="#DB9925"/><path d="M481.30,582.60 484.80,574.40 L489.10,568.00 L492.60,560.20 L494.70,556.70 L497.60,545.30 L500.40,535.40 L502.20,524.80" fill="none" stroke="#111" stroke-width="1.4" stroke-linejoin="round"/><rect x="387.6" y="505.9" width="114.60" height="76.70" fill="none" stroke="#111" stroke-width="1.4"/><line x1="385.10" y1="582.60" x2="387.6" y2="582.60" stroke="#111" stroke-width="1.2"/><text transform="translate(382.90,584.54) scale(1.054,1) rotate(0.05)" class="tk" style="font-size:9.4px" text-anchor="end">0</text><line x1="385.10" y1="563.42" x2="387.6" y2="563.42" stroke="#111" stroke-width="1.2"/><text transform="translate(382.90,566.76) scale(1.054,1) rotate(0.05)" class="tk" style="font-size:9.4px" text-anchor="end">200</text><line x1="385.10" y1="544.25" x2="387.6" y2="544.25" stroke="#111" stroke-width="1.2"/><text transform="translate(382.90,547.59) scale(1.054,1) rotate(0.05)" class="tk" style="font-size:9.4px" text-anchor="end">400</text><line x1="385.10" y1="525.08" x2="387.6" y2="525.08" stroke="#111" stroke-width="1.2"/><text transform="translate(382.90,528.41) scale(1.054,1) rotate(0.05)" class="tk" style="font-size:9.4px" text-anchor="end">600</text><line x1="385.10" y1="505.90" x2="387.6" y2="505.90" stroke="#111" stroke-width="1.2"/><text transform="translate(382.90,509.24) scale(1.054,1) rotate(0.05)" class="tk" style="font-size:9.4px" text-anchor="end">800</text><line x1="387.60" y1="582.6" x2="387.60" y2="585.10" stroke="#111" stroke-width="1.2"/><text transform="translate(390.80,589.30) rotate(-45) scale(1.064,1)" class="tk" style="font-size:9.40px" text-anchor="end" dy="3">1750</text><line x1="410.52" y1="582.6" x2="410.52" y2="585.10" stroke="#111" stroke-width="1.2"/><text transform="translate(413.72,589.30) rotate(-45) scale(1.064,1)" class="tk" style="font-size:9.40px" text-anchor="end" dy="3">1800</text><line x1="433.44" y1="582.6" x2="433.44" y2="585.10" stroke="#111" stroke-width="1.2"/><text transform="translate(436.64,589.30) rotate(-45) scale(1.064,1)" class="tk" style="font-size:9.40px" text-anchor="end" dy="3">1850</text><line x1="456.36" y1="582.6" x2="456.36" y2="585.10" stroke="#111" stroke-width="1.2"/><text transform="translate(459.56,589.30) rotate(-45) scale(1.064,1)" class="tk" style="font-size:9.40px" text-anchor="end" dy="3">1900</text><line x1="479.28" y1="582.6" x2="479.28" y2="585.10" stroke="#111" stroke-width="1.2"/><text transform="translate(482.48,589.30) rotate(-45) scale(1.064,1)" class="tk" style="font-size:9.40px" text-anchor="end" dy="3">1950</text><line x1="502.20" y1="582.6" x2="502.20" y2="585.10" stroke="#111" stroke-width="1.2"/><text transform="translate(505.40,589.30) rotate(-45) scale(1.064,1)" class="tk" style="font-size:9.40px" text-anchor="end" dy="3">2000</text><text x="444.40" y="498.75" transform="rotate(0.05 444.40 498.75)" class="tt" text-anchor="middle" textLength="103.75" lengthAdjust="spacing">International Tourism</text><text transform="translate(361.70,535.45) rotate(-90)" class="yl" text-anchor="middle" textLength="113.10" lengthAdjust="spacing">Arrivals: Million People</text><text x="438.55" y="618.50" transform="rotate(0.05 438.55 618.50)" class="tt" text-anchor="middle" textLength="20.6" lengthAdjust="spacingAndGlyphs">Year</text></g>
</svg></body></html>
